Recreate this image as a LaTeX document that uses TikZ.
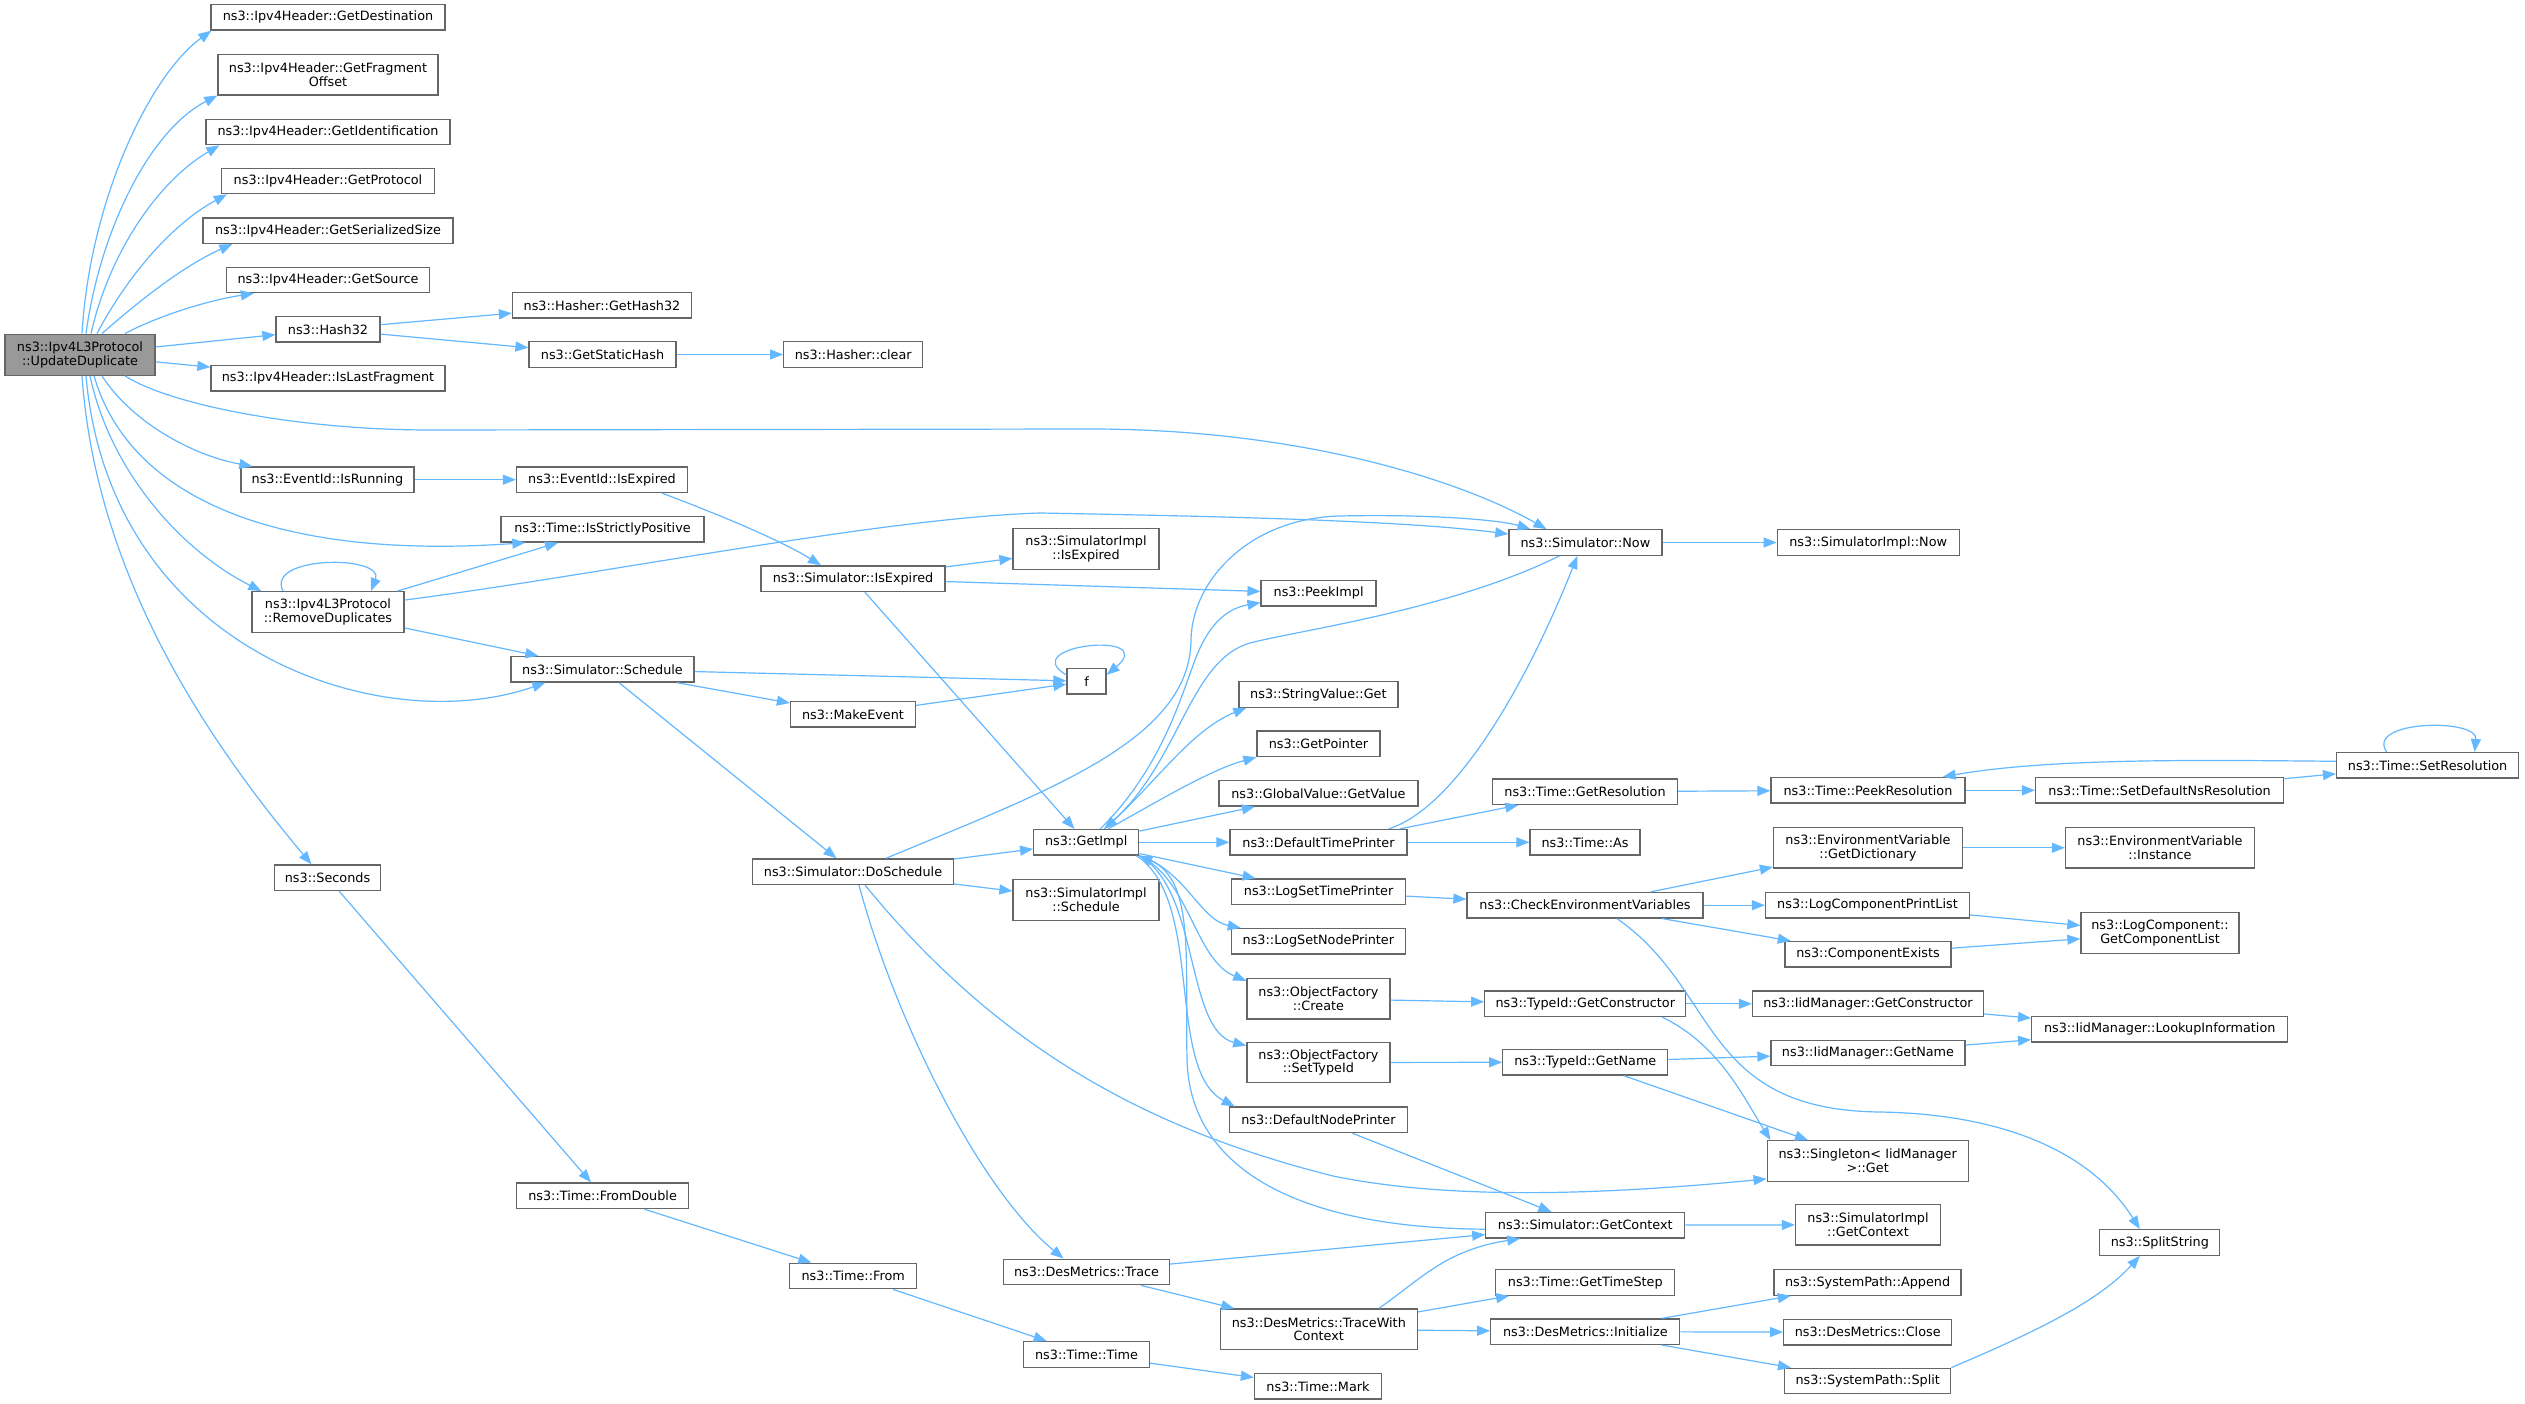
\documentclass[tikz,border=0pt]{standalone}
\usepackage{fontspec}
\newfontfamily\dv{DejaVu Sans}
\usetikzlibrary{arrows.meta}
\definecolor{edgeblue}{HTML}{63B8FF}
\definecolor{boxgray}{HTML}{666666}
\definecolor{udgray}{HTML}{999999}
\begin{document}
\begin{tikzpicture}[x=1pt,y=-1pt,
  fbox/.style={draw=boxgray, fill=white, line width=1.3pt, inner sep=0pt, minimum height=25.5pt, align=center, text=black, font={\dv\fontsize{12.8pt}{13.6pt}\selectfont}},
  fbox2/.style={fbox, minimum height=40.5pt},
  cedge/.style={draw=edgeblue, line width=1.2pt, -{Triangle[length=13pt,width=10pt]}}]
\fill[white] (0,0) rectangle (2525,1404);
\useasboundingbox (0,0) rectangle (2525,1404);
% nodes
\node[fbox2, fill=udgray, minimum width=150pt, minimum height=41pt] (ud) at (80,354.7) {ns3::Ipv4L3Protocol\\::UpdateDuplicate};
\node[fbox, minimum width=234pt] (gd) at (328,17.3) {ns3::Ipv4Header::GetDestination};
\node[fbox2, minimum width=220pt] (gfo) at (328,74.7) {ns3::Ipv4Header::GetFragment\\Offset};
\node[fbox, minimum width=244pt] (gid) at (328,132) {ns3::Ipv4Header::GetIdentification};
\node[fbox, minimum width=213pt] (gp) at (328,181) {ns3::Ipv4Header::GetProtocol};
\node[fbox, minimum width=250pt] (gss) at (328,230.7) {ns3::Ipv4Header::GetSerializedSize};
\node[fbox, minimum width=203pt] (gs) at (328,280) {ns3::Ipv4Header::GetSource};
\node[fbox, minimum width=104pt] (h32) at (328,329.3) {ns3::Hash32};
\node[fbox, minimum width=234pt] (ilf) at (328,378.3) {ns3::Ipv4Header::IsLastFragment};
\node[fbox, minimum width=173pt] (ir) at (327.5,479.7) {ns3::EventId::IsRunning};
\node[fbox2, minimum width=152pt] (rd) at (328,612) {ns3::Ipv4L3Protocol\\::RemoveDuplicates};
\node[fbox, minimum width=106pt] (sec) at (327.5,877.7) {ns3::Seconds};
\node[fbox, minimum width=179pt] (gh32) at (602,305.3) {ns3::Hasher::GetHash32};
\node[fbox, minimum width=147pt] (gsh) at (602.5,354.5) {ns3::GetStaticHash};
\node[fbox, minimum width=171pt] (eie) at (602,479.7) {ns3::EventId::IsExpired};
\node[fbox, minimum width=203pt] (isp) at (602.5,529.3) {ns3::Time::IsStrictlyPositive};
\node[fbox, minimum width=183pt] (sch) at (602.5,669.3) {ns3::Simulator::Schedule};
\node[fbox, minimum width=172pt] (fd) at (602.6,1195.8) {ns3::Time::FromDouble};
\node[fbox, minimum width=139pt] (clr) at (853.2,354.5) {ns3::Hasher::clear};
\node[fbox, minimum width=184pt] (sie) at (853,578.7) {ns3::Simulator::IsExpired};
\node[fbox, minimum width=125pt] (me) at (853,714.3) {ns3::MakeEvent};
\node[fbox, minimum width=201pt] (ds) at (853,871.7) {ns3::Simulator::DoSchedule};
\node[fbox, minimum width=127pt] (tf) at (853.2,1276) {ns3::Time::From};
\node[fbox2, minimum width=146pt] (sie2) at (1086,549) {ns3::SimulatorImpl\\::IsExpired};
\node[fbox, minimum width=39pt] (f) at (1086.5,681.3) {f};
\node[fbox, minimum width=105pt] (gi) at (1086.2,842.3) {ns3::GetImpl};
\node[fbox2, minimum width=146pt] (sis) at (1086,900) {ns3::SimulatorImpl\\::Schedule};
\node[fbox, minimum width=166pt] (tr) at (1086.5,1271.9) {ns3::DesMetrics::Trace};
\node[fbox, minimum width=126pt] (tt) at (1086.5,1354.4) {ns3::Time::Time};
\node[fbox, minimum width=115pt] (pi) at (1318.6,593.2) {ns3::PeekImpl};
\node[fbox, minimum width=159pt] (svg) at (1318.4,694.5) {ns3::StringValue::Get};
\node[fbox, minimum width=123pt] (gptr) at (1318.5,743.8) {ns3::GetPointer};
\node[fbox, minimum width=199pt] (gvv) at (1318.4,793.3) {ns3::GlobalValue::GetValue};
\node[fbox, minimum width=177pt] (dtp) at (1318.5,842.3) {ns3::DefaultTimePrinter};
\node[fbox, minimum width=174pt] (lstp) at (1318.6,891.7) {ns3::LogSetTimePrinter};
\node[fbox, minimum width=174pt] (lsnp) at (1318.4,941.3) {ns3::LogSetNodePrinter};
\node[fbox2, minimum width=143pt] (ofc) at (1318.4,998.7) {ns3::ObjectFactory\\::Create};
\node[fbox2, minimum width=143pt] (ofs) at (1318.4,1062.5) {ns3::ObjectFactory\\::SetTypeId};
\node[fbox, minimum width=178pt] (dnp) at (1318.4,1119.8) {ns3::DefaultNodePrinter};
\node[fbox2, minimum width=197pt] (twc) at (1318.8,1329.3) {ns3::DesMetrics::TraceWith\\Context};
\node[fbox, minimum width=127pt] (tm) at (1318,1386.3) {ns3::Time::Mark};
\node[fbox, minimum width=153pt] (now) at (1585.4,542.5) {ns3::Simulator::Now};
\node[fbox, minimum width=185pt] (gres) at (1585,791.7) {ns3::Time::GetResolution};
\node[fbox, minimum width=110pt] (as) at (1585,842.3) {ns3::Time::As};
\node[fbox, minimum width=236pt] (cev) at (1585,905.2) {ns3::CheckEnvironmentVariables};
\node[fbox, minimum width=201pt] (tgc) at (1585.3,1003.8) {ns3::TypeId::GetConstructor};
\node[fbox, minimum width=165pt] (tgn) at (1585.3,1062.2) {ns3::TypeId::GetName};
\node[fbox, minimum width=199pt] (sgc) at (1585.3,1225.2) {ns3::Simulator::GetContext};
\node[fbox, minimum width=179pt] (gts) at (1585.3,1282.5) {ns3::Time::GetTimeStep};
\node[fbox, minimum width=189pt] (dmi) at (1585.3,1331.7) {ns3::DesMetrics::Initialize};
\node[fbox, minimum width=182pt] (sin) at (1868.2,542.5) {ns3::SimulatorImpl::Now};
\node[fbox, minimum width=194pt] (pr) at (1868,790.3) {ns3::Time::PeekResolution};
\node[fbox2, minimum width=189pt] (ged) at (1868,847.8) {ns3::EnvironmentVariable\\::GetDictionary};
\node[fbox, minimum width=204pt] (lcpl) at (1867.5,905.2) {ns3::LogComponentPrintList};
\node[fbox, minimum width=166pt] (ce) at (1868,954.3) {ns3::ComponentExists};
\node[fbox, minimum width=231pt] (igc) at (1868,1003.8) {ns3::IidManager::GetConstructor};
\node[fbox, minimum width=194pt] (ign) at (1868,1053) {ns3::IidManager::GetName};
\node[fbox2, minimum width=201pt] (sg) at (1867.7,1161) {ns3::Singleton< IidManager\\ >::Get};
\node[fbox2, minimum width=145pt] (sigc) at (1868,1224.8) {ns3::SimulatorImpl\\::GetContext};
\node[fbox, minimum width=187pt] (spa) at (1867.6,1282.5) {ns3::SystemPath::Append};
\node[fbox, minimum width=168pt] (dmc) at (1867.7,1332.2) {ns3::DesMetrics::Close};
\node[fbox, minimum width=166pt] (sps) at (1867.7,1381) {ns3::SystemPath::Split};
\node[fbox, minimum width=248pt] (sdn) at (2159.6,790.3) {ns3::Time::SetDefaultNsResolution};
\node[fbox2, minimum width=189pt] (evi) at (2160,847.8) {ns3::EnvironmentVariable\\::Instance};
\node[fbox2, minimum width=158pt] (gcl) at (2160,933) {ns3::LogComponent::\\GetComponentList};
\node[fbox, minimum width=256pt] (lui) at (2159.7,1029.3) {ns3::IidManager::LookupInformation};
\node[fbox, minimum width=120pt] (ss) at (2159.8,1242.5) {ns3::SplitString};
\node[fbox, minimum width=182pt] (sr) at (2427.6,765.3) {ns3::Time::SetResolution};
% UpdateDuplicate top fan
\draw[cedge] ([xshift=2pt]ud.north) .. controls (90,200) and (150,75) .. ([xshift=1pt]gd.south west);
\draw[cedge] ([xshift=6pt]ud.north) .. controls (100,230) and (150,130) .. (gfo.south west);
\draw[cedge] ([xshift=11pt]ud.north) .. controls (110,250) and (160,180) .. ([xshift=14pt]gid.south west);
\draw[cedge] ([xshift=17pt]ud.north) .. controls (125,280) and (170,225) .. ([xshift=6pt]gp.south west);
\draw[cedge] ([xshift=22pt]ud.north) .. controls (140,300) and (185,265) .. ([xshift=30pt]gss.south west);
\draw[cedge] ([xshift=45pt]ud.north) .. controls (160,315) and (210,300) .. ([xshift=28pt]gs.south west);
\draw[cedge] (ud) -- (h32);
\draw[cedge] (ud) -- (ilf);
\draw[cedge] ([xshift=45pt]ud.south) .. controls (170,405) and (300,430) .. (430,430) -- (1090,429) .. controls (1300,429) and (1460,480) .. ([xshift=-39pt]now.north);
% UpdateDuplicate bottom fan
\draw[cedge] ([xshift=22pt]ud.south) .. controls (130,420) and (190,455) .. ([xshift=12pt]ir.north west);
\draw[cedge] ([xshift=14pt]ud.south) .. controls (130,500) and (280,560) .. ([xshift=25pt]isp.south west);
\draw[cedge] ([xshift=10pt]ud.south) .. controls (110,470) and (180,550) .. ([xshift=10pt]rd.north west);
\draw[cedge] ([xshift=6pt]ud.south) .. controls (110,650) and (380,740) .. ([xshift=35pt]sch.south west);
\draw[cedge] ([xshift=2pt]ud.south) .. controls (95,560) and (190,720) .. ([xshift=-16pt]sec.north);
% RemoveDuplicates
\draw[cedge] ([xshift=-45pt]rd.north) .. controls (265,555) and (385,555) .. ([xshift=43pt]rd.north);
\draw[cedge] (rd) -- (isp);
\draw[cedge] ([yshift=12pt]rd.east) .. controls (600,575) and (880,518) .. (1040,513) .. controls (1200,516) and (1400,520) .. ([yshift=-5pt]now.north west);
\draw[cedge] (rd) -- (sch);
% Hash
\draw[cedge] (h32) -- (gh32);
\draw[cedge] (h32) -- (gsh);
\draw[cedge] (gsh) -- (clr);
% EventId
\draw[cedge] (ir) -- (eie);
\draw[cedge] ([xshift=60pt]eie.south) .. controls (720,515) and (780,540) .. ([xshift=-32pt]sie.north);
% Simulator::IsExpired
\draw[cedge] (sie) -- (sie2);
\draw[cedge] (sie) -- (pi);
\draw[cedge] (sie) -- (gi);
% Schedule
\draw[cedge] (sch) -- (f);
\draw[cedge] (sch) -- (me);
\draw[cedge] (sch) -- (ds);
\draw[cedge] (me) -- (f);
\draw[cedge] ([yshift=-7pt]f.north west) .. controls (1015,645) and (1160,630) .. ([yshift=-7pt]f.north east);
% DoSchedule
\draw[cedge] ([xshift=33pt]ds.north) .. controls (1050,790) and (1190,740) .. (1191,640) .. controls (1192,580) and (1250,518) .. (1340,516) .. controls (1430,514) and (1500,520) .. ([xshift=-55pt]now.north);
\draw[cedge] (ds) -- (gi);
\draw[cedge] (ds) -- (sis);
\draw[cedge] ([xshift=6pt]ds.south) .. controls (895,1020) and (980,1190) .. ([xshift=-23pt]tr.north);
\draw[cedge] ([xshift=12pt]ds.south) .. controls (1000,1050) and (1150,1130) .. (1333,1176) .. controls (1450,1200) and (1600,1195) .. ([yshift=3pt]sg.south west);
% GetImpl out
\draw[cedge] ([xshift=14pt]gi.north) .. controls (1160,770) and (1180,700) .. (1195,660) .. controls (1210,620) and (1230,608) .. ([yshift=4pt]pi.south west);
\draw[cedge] ([xshift=18pt]gi.north) .. controls (1150,790) and (1190,730) .. ([xshift=8pt]svg.south west);
\draw[cedge] ([xshift=22pt]gi.north) .. controls (1160,800) and (1210,770) .. (gptr.south west);
\draw[cedge] (gi) -- (gvv);
\draw[cedge] (gi) -- (dtp);
\draw[cedge] (gi) -- (lstp);
\draw[cedge] (gi.south east) .. controls (1185,870) and (1200,920) .. ([xshift=10pt]lsnp.north west);
\draw[cedge] (gi.south east) .. controls (1190,880) and (1195,960) .. ([yshift=-3pt]ofc.north west);
\draw[cedge] (gi.south east) .. controls (1200,890) and (1185,1030) .. ([yshift=-4pt]ofs.north west);
\draw[cedge] ([xshift=-3pt]gi.south east) .. controls (1205,900) and (1165,1070) .. ([xshift=6pt]dnp.north west);
% into GetImpl
\draw[cedge] ([xshift=-26pt]now.south) .. controls (1450,610) and (1300,630) .. (1250,643) .. controls (1190,660) and (1180,760) .. ([xshift=18pt]gi.north);
\draw[cedge] ([yshift=-4pt]sgc.west) .. controls (1300,1228) and (1190,1170) .. (1187,1060) .. controls (1185,960) and (1195,880) .. (gi.south east);
% Now
\draw[cedge] (now) -- (sin);
% DefaultTimePrinter
\draw[cedge] ([xshift=70pt]dtp.north) .. controls (1450,810) and (1520,700) .. ([xshift=-8pt]now.south);
\draw[cedge] ([xshift=-8pt]dtp.north east) -- (gres);
\draw[cedge] (dtp) -- (as);
% Resolution
\draw[cedge] (gres) -- (pr);
\draw[cedge] (pr) -- (sdn);
\draw[cedge] (sdn) -- (sr);
\draw[cedge] ([xshift=-41pt]sr.north) .. controls (2365,720) and (2478,718) .. ([xshift=47pt]sr.north);
\draw[cedge] ([yshift=4pt]sr.west) .. controls (2200,760) and (2050,758) .. ([xshift=-23pt]pr.north east);
% CheckEnvironmentVariables
\draw[cedge] (lstp) -- (cev);
\draw[cedge] (cev) -- (ged);
\draw[cedge] (cev) -- (lcpl);
\draw[cedge] (cev) -- (ce);
\draw[cedge] ([xshift=32pt]cev.south) .. controls (1720,990) and (1700,1110) .. (1880,1112) .. controls (2000,1114) and (2090,1150) .. ([xshift=-20pt]ss.north);
\draw[cedge] (ged) -- (evi);
\draw[cedge] (lcpl) -- (gcl);
\draw[cedge] (ce) -- (gcl);
% TypeId
\draw[cedge] (ofc) -- (tgc);
\draw[cedge] (tgc) -- (igc);
\draw[cedge] ([xshift=77pt]tgc.south) .. controls (1720,1045) and (1745,1100) .. ([xshift=4pt]sg.north west);
\draw[cedge] (igc) -- (lui);
\draw[cedge] (ofs) -- (tgn);
\draw[cedge] (tgn) -- (ign);
\draw[cedge] (tgn) -- (sg);
\draw[cedge] (ign) -- (lui);
% Context
\draw[cedge] (dnp) -- (sgc);
\draw[cedge] (sgc) -- (sigc);
\draw[cedge] (tr) -- (sgc);
\draw[cedge] (tr) -- (twc);
\draw[cedge] ([xshift=60pt]twc.north) .. controls (1420,1280) and (1445,1250) .. ([xshift=35pt]sgc.south west);
\draw[cedge] (twc) -- (gts);
\draw[cedge] (twc) -- (dmi);
\draw[cedge] (dmi) -- (spa);
\draw[cedge] (dmi) -- (dmc);
\draw[cedge] (dmi) -- (sps);
\draw[cedge] (sps.north east) .. controls (2040,1330) and (2100,1300) .. ([xshift=-20pt]ss.south);
% Seconds chain
\draw[cedge] (sec) -- (fd);
\draw[cedge] (fd) -- (tf);
\draw[cedge] (tf) -- (tt);
\draw[cedge] (tt) -- (tm);
\end{tikzpicture}
\end{document}
